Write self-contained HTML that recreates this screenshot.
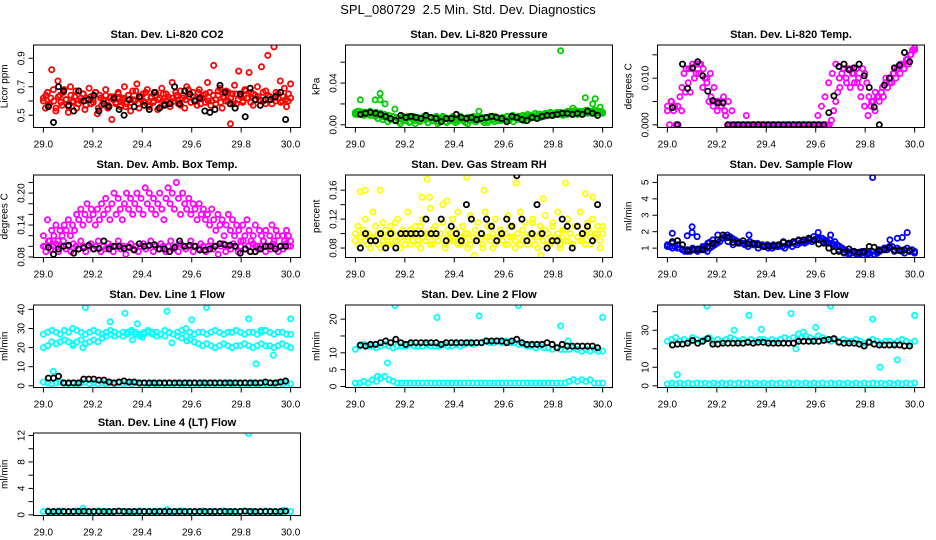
<!DOCTYPE html>
<html><head><meta charset="utf-8"><style>
body{margin:0;background:#fff;}
svg{display:block;font-family:"Liberation Sans",Arial,sans-serif;}
</style></head><body>
<svg id="chart" width="936" height="540" viewBox="0 0 936 540" xmlns="http://www.w3.org/2000/svg">
<rect width="936" height="540" fill="#fff"/>
<text x="468" y="14" text-anchor="middle" font-size="13">SPL_080729 &#160;2.5 Min. Std. Dev. Diagnostics</text>
</svg>
<script>
// ---------- data ----------
const xTicks=[29.0,29.2,29.4,29.6,29.8,30.0];
const xTickLabels=["29.0","29.2","29.4","29.6","29.8","30.0"];

const co2RedA=[0.62,0.55,0.66,0.58,0.82,0.6,0.53,0.74,0.64,0.57,0.68,0.61,0.52,0.7,0.59,0.63,0.55,0.67,0.6,0.65,0.54,0.62,0.69,0.58,0.61,0.66,0.51,0.64,0.57,0.6,0.68,0.55,0.62,0.47,0.63,0.59,0.66,0.56,0.61,0.7,0.58,0.64,0.53,0.67,0.6,0.72,0.55,0.62,0.65,0.59,0.68,0.56,0.63,0.6,0.66,0.54,0.62,0.69,0.58,0.65,0.61,0.56,0.73,0.6,0.64,0.58,0.67,0.62,0.55,0.7,0.63,0.59,0.66,0.61,0.57,0.68,0.62,0.64,0.59,0.73,0.66,0.6,0.85,0.58,0.64,0.69,0.55,0.62,0.67,0.6,0.44,0.65,0.71,0.58,0.81,0.63,0.59,0.68,0.62,0.8,0.66,0.57,0.64,0.7,0.61,0.84,0.6,0.67,0.92,0.63,0.58,0.98,0.66,0.62,0.74,0.6,0.69,0.56,0.65,0.72];
const co2RedB=[0.6,0.64,0.57,0.62,0.68,0.55,0.63,0.59,0.66,0.61,0.56,0.64,0.6,0.67,0.58,0.62,0.65,0.57,0.61,0.63,0.59,0.66,0.55,0.62,0.6,0.64,0.57,0.63,0.61,0.58,0.65,0.6,0.62,0.56,0.64,0.59,0.61,0.67,0.58,0.63,0.6,0.66,0.57,0.62,0.59,0.64,0.61,0.56,0.65,0.6,0.63,0.58,0.62,0.66,0.6,0.57,0.64,0.61,0.68,0.59,0.63,0.6,0.66,0.58,0.62,0.65,0.6,0.57,0.64,0.61,0.67,0.59,0.63,0.6,0.66,0.62,0.58,0.65,0.61,0.64,0.6,0.67,0.62,0.59,0.65,0.61,0.63,0.6,0.66,0.58,0.64,0.61,0.62,0.6,0.65,0.59,0.63,0.61,0.6,0.62];
const co2Black=[0.56,0.45,0.7,0.67,0.57,0.53,0.67,0.6,0.61,0.64,0.53,0.58,0.56,0.62,0.54,0.5,0.61,0.56,0.63,0.57,0.54,0.66,0.55,0.57,0.58,0.7,0.58,0.67,0.65,0.6,0.62,0.53,0.52,0.54,0.71,0.66,0.58,0.55,0.65,0.49,0.69,0.61,0.57,0.61,0.61,0.63,0.66,0.47];

const presGreenA=[0.012,0.01,0.013,0.011,0.009,0.012,0.01,0.013,0.011,0.009,0.012,0.01,0.011,0.008,0.01,0.007,0.009,0.005,0.008,0.004,0.007,0.003,0.006,0.008,0.004,0.007,0.002,0.006,0.008,0.004,0.007,0.003,0.006,0.008,0.005,0.002,0.007,0.004,0.006,0.008,0.003,0.006,0.005,0.007,0.002,0.006,0.004,0.008,0.005,0.003,0.007,0.005,0.006,0.002,0.007,0.004,0.006,0.008,0.003,0.006,0.005,0.007,0.002,0.006,0.004,0.008,0.005,0.003,0.007,0.006,0.004,0.007,0.005,0.008,0.004,0.006,0.003,0.007,0.005,0.008,0.006,0.004,0.007,0.008,0.006,0.009,0.007,0.008,0.01,0.007,0.009,0.008,0.01,0.009,0.011,0.009,0.01,0.012,0.01,0.011,0.009,0.012,0.01,0.011,0.013,0.01,0.012,0.011,0.013,0.01,0.012,0.014,0.011,0.013,0.012,0.014,0.011,0.013,0.012,0.011];
const presGreenB=[0.01,0.013,0.011,0.012,0.01,0.011,0.009,0.011,0.008,0.006,0.009,0.005,0.007,0.003,0.006,0.008,0.004,0.006,0.001,0.007,0.005,0.008,0.003,0.006,0.001,0.007,0.004,0.006,0.008,0.002,0.006,0.004,0.007,0.001,0.005,0.008,0.003,0.006,0.004,0.007,0.002,0.005,0.008,0.004,0.006,0.001,0.007,0.005,0.003,0.008,0.006,0.004,0.007,0.002,0.006,0.005,0.008,0.004,0.006,0.007,0.005,0.008,0.006,0.009,0.007,0.008,0.006,0.009,0.008,0.01,0.008,0.009,0.011,0.009,0.01,0.008,0.011,0.01,0.012,0.009,0.011,0.01,0.012,0.011,0.01,0.013,0.011,0.012,0.014,0.01,0.012,0.013,0.011,0.014,0.012,0.013,0.011,0.012,0.013,0.012];
const presOutT=[29.02,29.08,29.1,29.1,29.12,29.16,29.5,29.83,29.93,29.97,29.96,29.99,29.88];
const presOutV=[0.024,0.024,0.03,0.024,0.02,0.015,0.013,0.071,0.026,0.025,0.02,0.017,0.016];
const presBlack=[0.01,0.011,0.012,0.011,0.01,0.008,0.006,0.004,0.009,0.007,0.008,0.007,0.006,0.009,0.007,0.006,0.003,0.006,0.006,0.01,0.007,0.006,0.007,0.005,0.006,0.007,0.008,0.007,0.006,0.003,0.008,0.007,0.005,0.004,0.007,0.006,0.008,0.009,0.009,0.01,0.011,0.011,0.01,0.011,0.01,0.013,0.011,0.009];

const tempMagA=[0.004,0,0.005,0.003,0,0.004,0.006,0.008,0.011,0.012,0.009,0.007,0.012,0.01,0.013,0.011,0.013,0.008,0.01,0.009,0.005,0.006,0.004,0.005,0.003,0.005,0.004,0.006,0.002,0,0,0,0,0,0,0,0,0,0.002,0,0,0,0,0,0,0,0,0,0,0,0,0,0,0,0,0,0,0,0,0,0,0,0,0,0,0,0,0,0,0,0,0,0,0,0,0,0,0,0,0.001,0.003,0.005,0.007,0.008,0.011,0.012,0.01,0.012,0.008,0.011,0.009,0.012,0.01,0.008,0.012,0.011,0.009,0.006,0.004,0.005,0.003,0.006,0.005,0.007,0.006,0.009,0.008,0.01,0.009,0.011,0.01,0.012,0.011,0.013,0.012,0.014,0.013,0.015,0.016,0.0165];
const tempMagB=[0.003,0.005,0.004,0,0.003,0.007,0.012,0.013,0.011,0.013,0.012,0.01,0.011,0.008,0.005,0.004,0.003,0.005,0.003,0,0,0,0,0,0,0,0,0,0,0,0,0,0,0,0,0,0,0,0,0,0,0,0.002,0.004,0.006,0.009,0.011,0.013,0.01,0.012,0.009,0.012,0.011,0.009,0.006,0.004,0.002,0.005,0.007,0.006,0.008,0.01,0.009,0.011,0.012,0.013,0.012,0.014,0.015,0.016];
const tempBlack=[0.0037,0,0.013,0.0078,0.0122,0.0135,0.0105,0.0072,0.0052,0.0047,0.0047,0,0,0,0,0,0,0,0,0,0,0,0,0,0,0,0,0,0,0,0,0.0026,0.0062,0.0125,0.013,0.0118,0.0122,0.013,0.0105,0.008,0.0038,0,0.0085,0.01,0.0122,0.0128,0.0155,0.0135];

const ambUpper=[0.12,0.1,0.15,0.11,0.13,0.12,0.14,0.11,0.13,0.12,0.14,0.13,0.15,0.12,0.14,0.13,0.16,0.15,0.17,0.14,0.16,0.18,0.15,0.17,0.16,0.14,0.17,0.15,0.18,0.16,0.19,0.17,0.15,0.18,0.2,0.16,0.19,0.17,0.15,0.18,0.2,0.17,0.19,0.16,0.18,0.2,0.17,0.19,0.16,0.21,0.18,0.2,0.17,0.19,0.16,0.18,0.2,0.17,0.15,0.19,0.21,0.18,0.2,0.17,0.22,0.19,0.16,0.2,0.18,0.17,0.19,0.16,0.18,0.17,0.15,0.18,0.16,0.17,0.15,0.16,0.14,0.17,0.15,0.13,0.16,0.14,0.15,0.12,0.14,0.16,0.13,0.15,0.12,0.14,0.13,0.11,0.14,0.12,0.15,0.13,0.11,0.12,0.14,0.1,0.13,0.12,0.11,0.13,0.1,0.12,0.14,0.11,0.13,0.12,0.1,0.12,0.11,0.13,0.12,0.11];
const ambLower=[0.1,0.09,0.11,0.095,0.1,0.105,0.09,0.1,0.11,0.095,0.1,0.09,0.105,0.1,0.095,0.11,0.1,0.09,0.1,0.105,0.095,0.1,0.11,0.09,0.1,0.095,0.105,0.1,0.09,0.1,0.11,0.095,0.1,0.085,0.1,0.105,0.095,0.1,0.09,0.1,0.105,0.095,0.1,0.11,0.09,0.1,0.095,0.105,0.1,0.09,0.1,0.11,0.095,0.1,0.09,0.105,0.1,0.095,0.1,0.11,0.09,0.1,0.095,0.105,0.1,0.09,0.1,0.11,0.095,0.1,0.085,0.1,0.105,0.09,0.1,0.095,0.105,0.1,0.09,0.1,0.11,0.095,0.1,0.09,0.105,0.1,0.095,0.1,0.11,0.09,0.1,0.095,0.105,0.1,0.09,0.1,0.095,0.105,0.1,0.1];
const ambBlack=[0.098,0.085,0.095,0.1,0.102,0.087,0.095,0.097,0.102,0.095,0.096,0.11,0.095,0.1,0.1,0.096,0.098,0.093,0.105,0.1,0.102,0.103,0.095,0.095,0.09,0.098,0.11,0.1,0.102,0.1,0.093,0.093,0.095,0.1,0.105,0.103,0.102,0.1,0.087,0.095,0.09,0.09,0.095,0.1,0.1,0.095,0.1,0.1];

const rhYellowA=[0.09,0.11,0.08,0.1,0.12,0.085,0.095,0.13,0.09,0.1,0.08,0.115,0.095,0.085,0.11,0.1,0.09,0.12,0.08,0.105,0.095,0.13,0.085,0.1,0.11,0.09,0.08,0.12,0.1,0.095,0.135,0.085,0.11,0.09,0.1,0.14,0.08,0.105,0.095,0.12,0.09,0.13,0.085,0.11,0.1,0.08,0.125,0.095,0.09,0.115,0.1,0.085,0.13,0.095,0.11,0.08,0.12,0.09,0.105,0.1,0.085,0.125,0.095,0.11,0.08,0.1,0.13,0.09,0.115,0.085,0.1,0.12,0.095,0.08,0.11,0.09,0.125,0.1,0.085,0.115,0.095,0.13,0.08,0.105,0.09,0.12,0.1,0.085,0.11,0.095,0.13,0.09,0.1,0.115,0.085,0.12,0.095,0.1,0.08,0.11];
const rhYellowB=[0.1,0.085,0.095,0.105,0.09,0.1,0.08,0.095,0.11,0.085,0.1,0.09,0.105,0.095,0.085,0.1,0.115,0.09,0.095,0.1,0.085,0.095,0.105,0.09,0.1,0.085,0.11,0.095,0.09,0.1,0.085,0.105,0.095,0.09,0.1,0.115,0.085,0.095,0.1,0.09,0.105,0.085,0.095,0.11,0.09,0.1,0.085,0.095,0.105,0.09,0.1,0.08,0.095,0.11,0.09,0.1,0.085,0.095,0.105,0.09,0.1,0.085,0.11,0.095,0.09,0.1,0.085,0.105,0.095,0.09,0.1,0.115,0.085,0.095,0.1,0.09,0.105,0.085,0.095,0.11,0.09,0.1,0.085,0.095,0.105,0.09,0.1,0.085,0.11,0.095,0.09,0.1,0.085,0.105,0.095,0.09,0.1,0.11,0.09,0.1];
const rhOutT=[29.02,29.04,29.1,29.29,29.3,29.45,29.52,29.65,29.76,29.85,29.93,29.96,29.48,29.75,29.27,29.37];
const rhOutV=[0.158,0.16,0.16,0.175,0.15,0.178,0.16,0.17,0.148,0.17,0.155,0.15,0.07,0.07,0.15,0.145];
const rhBlack=[0.08,0.1,0.09,0.09,0.1,0.08,0.1,0.08,0.1,0.1,0.1,0.1,0.1,0.12,0.1,0.1,0.12,0.09,0.11,0.1,0.09,0.14,0.12,0.09,0.1,0.12,0.11,0.09,0.1,0.12,0.11,0.18,0.12,0.09,0.1,0.14,0.1,0.08,0.09,0.09,0.12,0.11,0.08,0.11,0.1,0.11,0.09,0.14];

const flowBlueA=[1.2,1.1,1.0,1.1,1.2,1.0,0.9,0.8,0.9,0.8,0.9,0.9,0.8,0.9,1.0,0.9,0.8,1.0,1.1,1.2,1.3,1.4,1.6,1.7,1.8,1.7,1.6,1.5,1.4,1.3,1.3,1.2,1.3,1.4,1.3,1.2,1.3,1.2,1.2,1.1,1.2,1.1,1.0,1.1,1.1,1.2,1.1,1.0,1.2,1.3,1.1,1.3,1.2,1.3,1.4,1.3,1.4,1.5,1.4,1.5,1.6,1.5,1.6,1.5,1.4,1.5,1.3,1.4,1.2,1.1,1.0,0.9,0.8,0.7,0.8,0.7,0.6,0.7,0.8,0.7,0.6,0.7,0.8,0.6,0.7,0.8,0.9,1.0,0.9,1.0,1.1,0.9,1.0,0.9,0.8,0.9,1.0,0.8,0.9,0.8];
const flowBlueB=[1.1,1.3,1.0,0.9,0.8,1.0,0.9,1.1,1.3,1.5,1.8,1.6,1.4,1.2,1.4,1.3,1.1,1.2,1.0,1.1,1.0,1.2,1.1,1.4,1.2,1.3,1.5,1.4,1.6,1.7,1.6,1.4,1.3,1.2,0.9,0.7,0.6,0.8,0.6,0.5,0.7,0.6,0.9,1.0,1.1,0.8,0.9,0.7,0.8,0.7];
const flowOutT=[29.02,29.08,29.1,29.1,29.12,29.17,29.33,29.83,29.97,29.93,29.95,29.9,29.61,29.66];
const flowOutV=[1.9,1.75,2.3,1.95,1.7,1.35,1.8,5.3,1.95,1.6,1.65,1.5,1.95,1.8];
const flowBlack=[1.4,1.45,1.2,0.85,0.9,0.95,0.9,1.1,1.3,1.5,1.8,1.65,1.35,1.3,1.45,1.25,1.3,1.2,1.1,1.15,1.15,1.2,1.35,1.3,1.4,1.45,1.5,1.6,1.5,1.25,1.3,1.0,0.8,0.8,0.75,0.95,0.8,0.75,0.8,1.1,1.05,0.85,0.9,1.05,0.85,0.85,0.9,0.85];

const l1Upper=[27,28,29,28,27,29,28,30,29,28,27,28,29,28,27,28,29,28,27,28,28,29,28,27,28,29,28,28,27,29,28,27,28,29,30,28,27,28,28,27,28,29,28,27,28,28,29,28,27,28,28,27,28,29,28,27,28,28,27,27];
const l1Lower=[20,21,23,22,23,24,23,22,23,24,22,23,24,23,25,26,27,26,27,26,27,28,27,26,27,28,27,26,27,26,28,27,26,25,26,24,23,22,21,22,21,20,21,22,21,20,21,21,22,21,20,21,22,21,21,20,21,22,21,20];
const l1Low=[2,1.5,1,1.5,2,1.5,1,1.5,1,1.5,2,1,1.5,1,1.5,1,1.5,1,1.5,1,1.5,1,1.5,1,1.5,1,1.5,1,1.5,1,1.5,1,1.5,1,1.5,1,1.5,1,1.5,1,1.5,1,1.5,1,1.5,1,1.5,1,1.5,1,1.5,1,1.5,1,1.5,1,1.5,1,1.5,1];
const l1OutT=[29.04,29.17,29.27,29.33,29.38,29.5,29.52,29.6,29.66,29.83,29.86,29.93,30.0,29.12,29.16,29.36,29.4,29.58,29.88];
const l1OutV=[7.5,41,33.5,38,32.5,39,22.5,34.5,41,35,11.5,16,35,21,20,24,25.5,23.5,29];
const l1Black=[4,4,5,1.5,1.5,1.5,1.5,3.5,3.5,3.5,3,3,2,1.5,2,2.5,2,2,1.5,1.5,1.5,1.5,1.5,1.5,1.5,1.5,1.5,1.5,1.5,1.5,1.5,1.5,1.5,1.5,1.5,1.5,1.5,1.5,1.5,1.5,1.5,1.5,1.5,2,1.5,1.5,2,2.5];

const l2Main=[11,12,12.5,12,12,11.5,12,12.5,12,11.5,12,12,12,12.5,12,12,12,12.5,12,12,12,12.5,12,12,12.5,12,12.5,13,12.5,13,13,13.5,13,13,13.5,13,13.5,13,13,12.5,12.5,12,12,11.5,12,11.5,11.5,11,11.5,11,11,11,11.5,11,10.5,11,10.5,11,10.5,10.5];
const l2Low=[1,1,1.5,1,2,1.5,2.5,3,2,1.5,1,1,1,1,1,1,1,1,1,1,1,1,1,1,1,1,1,1,1,1,1,1,1,1,1,1,1,1,1,1,1,1,1,1,1,1,1,1,1,1,1,1.5,2,1.5,2,1.5,2,1,1,1];
const l2OutT=[29.13,29.16,29.33,29.5,29.66,29.83,30.0,29.09,29.86];
const l2OutV=[7,24,20.5,21,24,18,20.5,3,13.5];
const l2Black=[12.3,12,12.5,12.5,13,13.5,13,14,13,12.5,13,13,13,13,13,13,12.5,13,13,13,13,13,13,13,13,13.5,13.5,13.5,13.5,13,13.5,14,13,12.5,12.5,12.5,12.5,13,12.5,11.5,12.5,12,12,12,12,12,12,11.5];

const l3Main=[24,25,26,24,25,24,26,25,24,25,26,24,25,24,25,26,25,24,25,24,25,24,25,25,24,25,24,25,26,25,26,25,26,27,26,25,27,26,25,24,25,24,25,24,24,25,24,23,24,25,24,23,24,24,23,24,25,24,23,24];
const l3Low=[1,1.5,1,1.5,1,1.5,1,1.5,1,1.5,1,1.5,1,1.5,1,1.5,1,1.5,1,1.5,1,1.5,1,1.5,1,1.5,1,1.5,1,1.5,1,1.5,1,1.5,1,1.5,1,1.5,1,1.5,1,1.5,1,1.5,1,1.5,1,1.5,1,1.5,1,1.5,1,1.5,1,1.5,1,1.5,1,1.5];
const l3OutT=[29.04,29.16,29.27,29.33,29.38,29.5,29.52,29.6,29.66,29.83,29.86,29.93,30.0,29.53,29.55];
const l3OutV=[6,43,30,38,30.5,39,20,31.5,43,36,10,14,38,28,29];
const l3Black=[22,22.5,22.5,23,24.5,23,24,25.5,22.5,22.5,23,23,23,23,23,23.5,23,23.5,23.5,23,23,23,23,23,23,24,24,24,24,24,24.5,25,25.5,23.5,23,23,23,22.5,21.5,23.5,22.5,22,22,22,22,22,21.5,21.5];

const l4Main=[0.5,0.6,0.4,0.5,0.6,0.5,0.4,0.5,0.6,0.5,0.5,0.4,0.5,0.6,0.5,0.5,0.4,0.5,0.6,0.5,0.5,0.4,0.5,0.6,0.5,0.5,0.4,0.5,0.6,0.5,0.5,0.4,0.5,0.6,0.5,0.5,0.4,0.5,0.6,0.5,0.5,0.4,0.5,0.6,0.5,0.5,0.4,0.5,0.6,0.5,0.5,0.4,0.5,0.6,0.5,0.5,0.4,0.5,0.6,0.5];
const l4OutT=[29.16,29.5,29.83,29.97];
const l4OutV=[1.0,0.8,12.3,0.7];
const l4Black=[0.5,0.5,0.5,0.5,0.5,0.5,0.5,0.55,0.5,0.5,0.5,0.5,0.5,0.5,0.55,0.5,0.5,0.5,0.5,0.5,0.5,0.5,0.5,0.5,0.5,0.5,0.5,0.5,0.5,0.5,0.5,0.5,0.5,0.5,0.5,0.5,0.5,0.5,0.5,0.55,0.5,0.5,0.5,0.5,0.5,0.5,0.5,0.55];

// ---------- drawing ----------
const NS="http://www.w3.org/2000/svg";
const svg=document.getElementById('chart');
const COL_LEFT=[33.5,345.5,657.5], ROW_TOP=[45,175,305,433], PW=267, PH=82.5;
const XMIN=28.96, XMAX=30.04;
function mk(tag,attrs,parent){const e=document.createElementNS(NS,tag);for(const k in attrs)e.setAttribute(k,attrs[k]);(parent||svg).appendChild(e);return e;}
function evenT(n){const a=[];for(let i=0;i<n;i++)a.push(29+i/(n-1));return a;}
function blackT(n){const a=[];for(let i=0;i<n;i++)a.push(29+(i+1)/(n+1));return a;}

function panel(cfg){
  const L=COL_LEFT[cfg.col],T=ROW_TOP[cfg.row];
  const g=mk('g',{});
  
  
  const sx=t=>L+(t-XMIN)/(XMAX-XMIN)*PW;
  const sy=v=>T+(cfg.ymax-v)/(cfg.ymax-cfg.ymin)*PH;
  const title=mk('text',{x:L+PW/2,y:T-7,'text-anchor':'middle','font-size':'11','font-weight':'bold'},g);
  title.textContent=cfg.title;
  
  
  const cid='clip'+cfg.col+cfg.row;
  const cp=mk('clipPath',{id:cid},g);mk('rect',{x:L,y:T,width:PW,height:PH},cp);
  const pts=mk('g',{'clip-path':'url(#'+cid+')',fill:'none','stroke-width':'1.8'},g);
  cfg.series.forEach(s=>{
    const ts=s.t||(s.black?blackT(s.v.length):evenT(s.v.length));
    s.v.forEach((v,i)=>{
      const c=mk('circle',{cx:sx(ts[i]).toFixed(1),cy:sy(v).toFixed(1),r:'2.6',stroke:s.color},pts);
      
      
    });
  });
  const bx=mk('rect',{x:L,y:T,width:PW,height:PH,fill:'none',stroke:'#000','stroke-width':'1'},g);
  
  
  xTicks.forEach((t,i)=>{
    mk('line',{x1:sx(t),x2:sx(t),y1:T+PH,y2:T+PH+5,stroke:'#000'},g);
    const lb=mk('text',{x:sx(t),y:T+PH+20,'text-anchor':'middle','font-size':'10'},g);
    lb.textContent=xTickLabels[i];
    
    
  });
  cfg.yt.forEach((v,i)=>{
    mk('line',{x1:L-5,x2:L,y1:sy(v),y2:sy(v),stroke:'#000'},g);
    if(cfg.yl[i]){
      const yy=sy(v);
      const lb=mk('text',{x:L-9,y:yy,'text-anchor':'middle','font-size':'10',transform:`rotate(-90 ${L-9} ${yy})`},g);
      lb.textContent=cfg.yl[i];
      
      
    }
  });
  const yc=T+PH/2;
  const yt=mk('text',{x:L-26,y:yc,'text-anchor':'middle','font-size':'10',transform:`rotate(-90 ${L-26} ${yc})`},g);
  yt.textContent=cfg.ylab;
  
  
}

panel({name:'co2-panel',col:0,row:0,title:'Stan. Dev. Li-820 CO2',ylab:'Licor ppm',ymin:0.414,ymax:0.993,
  yt:[0.5,0.6,0.7,0.8,0.9],yl:['0.5','','0.7','','0.9'],
  series:[{v:co2RedA,color:'#ff0000'},{v:co2RedB,color:'#ff0000'},{v:co2Black,color:'#000',black:true}]});
panel({name:'pressure-panel',col:1,row:0,title:'Stan. Dev. Li-820 Pressure',ylab:'kPa',ymin:-0.0026,ymax:0.0765,
  yt:[0,0.02,0.04,0.06],yl:['0.00','','0.04',''],
  series:[{v:presGreenA,color:'#00cc00'},{v:presGreenB,color:'#00cc00'},{t:presOutT,v:presOutV,color:'#00cc00'},{v:presBlack,color:'#000',black:true}]});
panel({name:'licor-temp-panel',col:2,row:0,title:'Stan. Dev. Li-820 Temp.',ylab:'degrees C',ymin:-0.00057,ymax:0.0171,
  yt:[0,0.005,0.01,0.015],yl:['0.000','','0.010',''],
  series:[{v:tempMagA,color:'#ff00ff'},{v:tempMagB,color:'#ff00ff'},{v:tempBlack,color:'#000',black:true}]});
panel({name:'amb-box-temp-panel',col:0,row:1,title:'Stan. Dev. Amb. Box Temp.',ylab:'degrees C',ymin:0.079,ymax:0.234,
  yt:[0.08,0.1,0.12,0.14,0.16,0.18,0.2,0.22],yl:['0.08','','','0.14','','','0.20',''],
  series:[{v:ambUpper,color:'#ff00ff'},{v:ambLower,color:'#ff00ff'},{v:ambBlack,color:'#000',black:true}]});
panel({name:'gas-stream-rh-panel',col:1,row:1,title:'Stan. Dev. Gas Stream RH',ylab:'percent',ymin:0.0669,ymax:0.181,
  yt:[0.08,0.1,0.12,0.14,0.16],yl:['0.08','','0.12','','0.16'],
  series:[{v:rhYellowA,color:'#ffff00'},{v:rhYellowB,color:'#ffff00'},{t:rhOutT,v:rhOutV,color:'#ffff00'},{v:rhBlack,color:'#000',black:true}]});
panel({name:'sample-flow-panel',col:2,row:1,title:'Stan. Dev. Sample Flow',ylab:'ml/min',ymin:0.43,ymax:5.45,
  yt:[1,2,3,4,5],yl:['1','2','3','4','5'],
  series:[{v:flowBlueA,color:'#0000ff'},{v:flowBlueB,color:'#0000ff'},{t:flowOutT,v:flowOutV,color:'#0000ff'},{v:flowBlack,color:'#000',black:true}]});
panel({name:'line1-flow-panel',col:0,row:2,title:'Stan. Dev. Line 1 Flow',ylab:'ml/min',ymin:-0.9,ymax:42.3,
  yt:[0,10,20,30,40],yl:['0','10','20','30','40'],
  series:[{v:l1Upper,color:'#00ffff'},{v:l1Lower,color:'#00ffff'},{v:l1Low,color:'#00ffff'},{t:l1OutT,v:l1OutV,color:'#00ffff'},{v:l1Black,color:'#000',black:true}]});
panel({name:'line2-flow-panel',col:1,row:2,title:'Stan. Dev. Line 2 Flow',ylab:'ml/min',ymin:-0.3,ymax:24.2,
  yt:[0,5,10,15,20],yl:['0','5','10','','20'],
  series:[{v:l2Main,color:'#00ffff'},{v:l2Low,color:'#00ffff'},{t:l2OutT,v:l2OutV,color:'#00ffff'},{v:l2Black,color:'#000',black:true}]});
panel({name:'line3-flow-panel',col:2,row:2,title:'Stan. Dev. Line 3 Flow',ylab:'ml/min',ymin:-0.9,ymax:43.6,
  yt:[0,10,20,30,40],yl:['0','10','','30',''],
  series:[{v:l3Main,color:'#00ffff'},{v:l3Low,color:'#00ffff'},{t:l3OutT,v:l3OutV,color:'#00ffff'},{v:l3Black,color:'#000',black:true}]});
panel({name:'line4-flow-panel',col:0,row:3,title:'Stan. Dev. Line 4 (LT) Flow',ylab:'ml/min',ymin:-0.1,ymax:12.38,
  yt:[0,2,4,6,8,10,12],yl:['0','','4','','8','','12'],
  series:[{v:l4Main,color:'#00ffff'},{t:l4OutT,v:l4OutV,color:'#00ffff'},{v:l4Black,color:'#000',black:true}]});
</script>
</body></html>
